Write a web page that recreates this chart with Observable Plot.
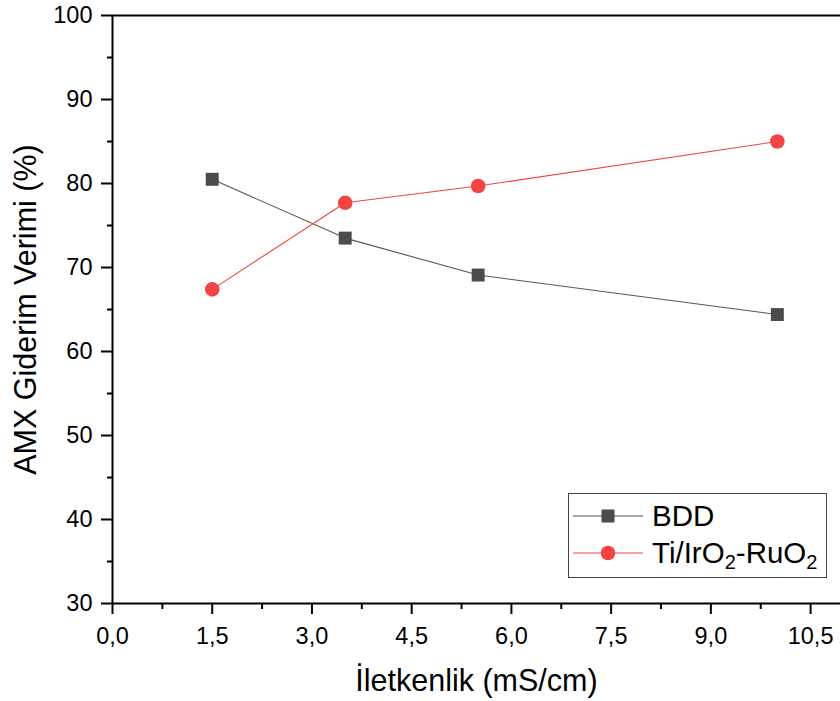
<!DOCTYPE html>
<html>
<head>
<meta charset="utf-8">
<script src="https://cdn.jsdelivr.net/npm/d3@7"></script>
<script src="https://cdn.jsdelivr.net/npm/@observablehq/plot@0.6"></script>
<style>
  html, body { margin: 0; padding: 0; background: white; }
  #wrap { position: relative; width: 840px; height: 701px; font-family: "Liberation Sans", Arial, sans-serif; }
  #legend { position: absolute; left: 568px; top: 493px; width: 259px; height: 85px; border: 1px solid #444; background: white; box-sizing: border-box; }
  .row { position: absolute; left: 4px; height: 34px; display: flex; align-items: center; font-size: 29.5px; color: #000; white-space: nowrap; }
  .row svg { margin-right: 9px; }
  sub { font-size: 0.68em; vertical-align: -0.3em; line-height: 0; }
</style>
</head>
<body>
<div id="wrap"></div>
<script>
// Data
const conductivity = [1.5, 3.5, 5.5, 10];
const bddValues = [80.5, 73.5, 69.1, 64.4];
const tiValues = [67.4, 77.7, 79.7, 85.0];
const seriesNames = ["BDD", "Ti/IrO2-RuO2"];
const xMajorTicks = [0, 1.5, 3, 4.5, 6, 7.5, 9, 10.5];
const xMinorTicks = [0.75, 2.25, 3.75, 5.25, 6.75, 8.25, 9.75];
const yMajorTicks = [30, 40, 50, 60, 70, 80, 90, 100];
const yMinorTicks = [35, 45, 55, 65, 75, 85, 95];
const xTitle = "İletkenlik (mS/cm)";
const yTitle = "AMX Giderim Verimi (%)";

const bdd = conductivity.map((x, i) => ({x, y: bddValues[i]}));
const ti = conductivity.map((x, i) => ({x, y: tiValues[i]}));

const grayLine = "#555555", grayFill = "#4b4b4b";
const red = "#f24444";

const fmt = d => d.toFixed(1).replace(".", ",");

const chart = Plot.plot({
  width: 840,
  height: 701,
  marginLeft: 112,
  marginRight: 0,
  marginTop: 15,
  marginBottom: 98,
  style: {background: "white", fontFamily: "'Liberation Sans', Arial, sans-serif", fontSize: "23px", color: "black", overflow: "visible"},
  x: {domain: [0, 10.95]},
  y: {domain: [30, 100]},
  marks: [
    // frame lines
    Plot.ruleY([30, 100], {stroke: "black", strokeWidth: 2}),
    Plot.ruleX([0], {stroke: "black", strokeWidth: 2}),
    // axes
    Plot.axisX({ticks: xMajorTicks, tickSize: 11, tickPadding: 13, tickFormat: fmt, strokeWidth: 2, label: null, fontSize: 23.5}),
    Plot.axisX({ticks: xMinorTicks, tickSize: 6, tickFormat: () => "", strokeWidth: 2, label: null}),
    Plot.axisY({ticks: yMajorTicks, tickSize: 11, tickPadding: 9, tickFormat: d => String(d), strokeWidth: 2, label: null, fontSize: 23.5}),
    Plot.axisY({ticks: yMinorTicks, tickSize: 5, tickFormat: () => "", strokeWidth: 2, label: null}),
    // axis titles
    Plot.text([xTitle], {frameAnchor: "bottom", dy: 78, text: d => d, fontSize: 30.5, textAnchor: "middle", lineAnchor: "middle", fill: "black"}),
    Plot.text([yTitle], {frameAnchor: "left", dx: -86, text: d => d, fontSize: 30.5, rotate: -90, textAnchor: "middle", lineAnchor: "middle", fill: "black"}),
    // series
    Plot.line(bdd, {x: "x", y: "y", stroke: grayLine, strokeWidth: 1.1}),
    Plot.line(ti, {x: "x", y: "y", stroke: red, strokeWidth: 1.1}),
    Plot.dot(bdd, {x: "x", y: "y", symbol: "square", r: 7.3, fill: grayFill, stroke: "none"}),
    Plot.dot(ti, {x: "x", y: "y", symbol: "circle", r: 7.3, fill: red, stroke: "none"})
  ]
});

const wrap = document.getElementById("wrap");
wrap.appendChild(chart);

// Legend
const legend = document.createElement("div");
legend.id = "legend";
legend.innerHTML = `
  <div class="row" style="top:5px">
    <svg width="70" height="20"><line x1="0" y1="10" x2="70" y2="10" stroke="${grayLine}" stroke-width="1.1"/><rect x="28.5" y="3.5" width="13" height="13" fill="${grayFill}"/></svg>
    <span>${seriesNames[0]}</span>
  </div>
  <div class="row" style="top:42px">
    <svg width="70" height="20"><line x1="0" y1="10" x2="70" y2="10" stroke="${red}" stroke-width="1.1"/><circle cx="35" cy="10" r="7.3" fill="${red}"/></svg>
    <span>Ti/IrO<sub>2</sub>-RuO<sub>2</sub></span>
  </div>`;
wrap.appendChild(legend);
</script>
</body>
</html>
